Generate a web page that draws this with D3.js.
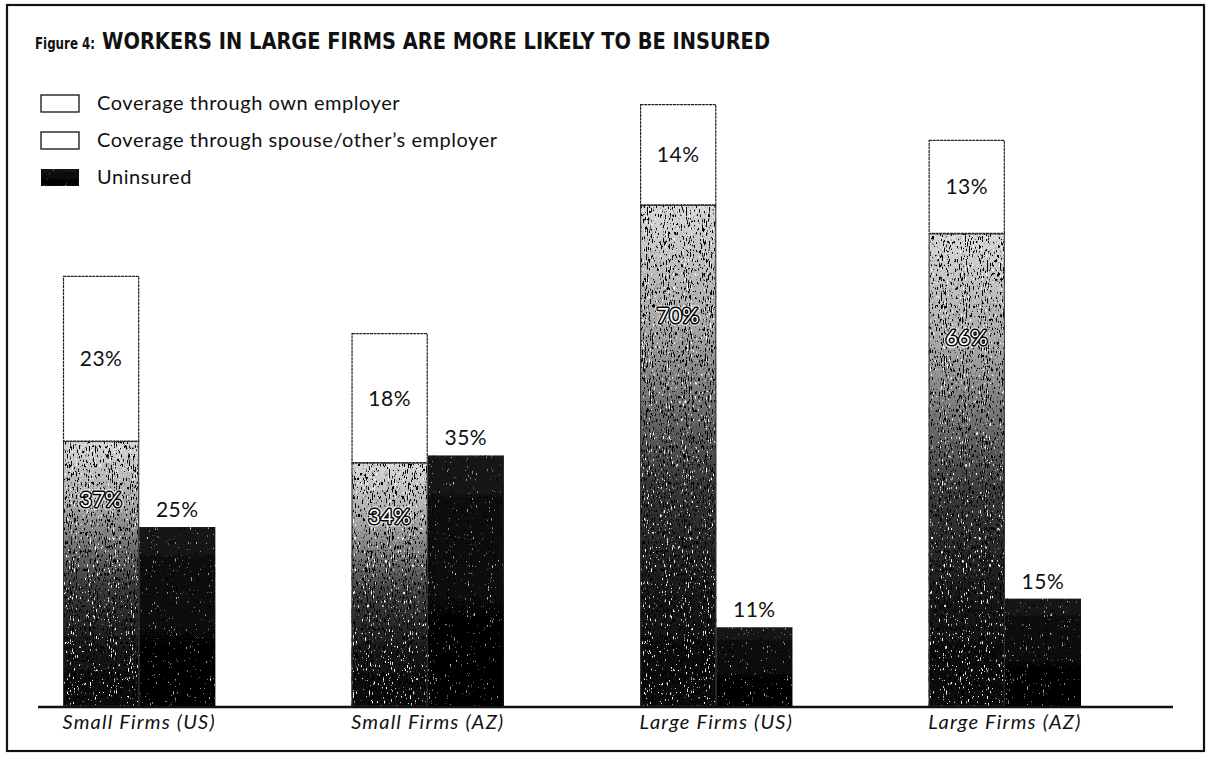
<!DOCTYPE html>
<html>
<head>
<meta charset="utf-8">
<script src="https://cdn.jsdelivr.net/npm/d3@7"></script>
<style>
  html, body { margin: 0; padding: 0; background: #fff; }
  svg { display: block; }
</style>
</head>
<body>
<svg id="chart" width="1207" height="763"></svg>
<script>
// Share of workers by source of health coverage, by firm size and place
const categories = ["Small Firms (US)", "Small Firms (AZ)", "Large Firms (US)", "Large Firms (AZ)"];
const ownEmployer = [37, 34, 70, 66];
const spouseEmployer = [23, 18, 14, 13];
const uninsured = [25, 35, 11, 15];
const seriesNames = ["Coverage through own employer", "Coverage through spouse/other\u2019s employer", "Uninsured"];
const figureLabel = "Figure 4:";
const titleText = "WORKERS IN LARGE FIRMS ARE MORE LIKELY TO BE INSURED";

const rows = categories.map((c, i) => ({
  category: c,
  own: ownEmployer[i],
  spouse: spouseEmployer[i],
  uninsured: uninsured[i]
}));

const svg = d3.select("#chart");
const bodyFont = "Lato, 'Noto Sans', 'DejaVu Sans', sans-serif";
const titleFont = "'Liberation Sans Narrow', 'DejaVu Sans Condensed', sans-serif";

// ---- paint definitions: shaded fills with a print-like grain ----
const defs = svg.append("defs");

const ownGrad = defs.append("linearGradient")
  .attr("id", "ownGrad").attr("x1", 0).attr("y1", 0).attr("x2", 0).attr("y2", 1);
[[0, "#d8d8d8"], [0.25, "#a4a4a4"], [0.55, "#3a3a3a"], [0.8, "#161616"], [1, "#080808"]]
  .forEach(([o, c]) => ownGrad.append("stop").attr("offset", o).attr("stop-color", c));

const unGrad = defs.append("linearGradient")
  .attr("id", "unGrad").attr("x1", 0).attr("y1", 0).attr("x2", 0).attr("y2", 1);
[[0, "#1a1a1a"], [0.3, "#0a0a0a"], [1, "#020202"]]
  .forEach(([o, c]) => unGrad.append("stop").attr("offset", o).attr("stop-color", c));

// speckle layer: light specks above `hiCut`, dark specks below `loCut`
function grainFilter(id, hiCut, loCut, hiAlpha, loAlpha, seed) {
  const f = defs.append("filter").attr("id", id)
    .attr("x", 0).attr("y", 0).attr("width", 1).attr("height", 1)
    .attr("filterUnits", "objectBoundingBox");
  f.append("feTurbulence").attr("type", "fractalNoise")
    .attr("baseFrequency", "0.95 0.22").attr("numOctaves", 3).attr("seed", seed)
    .attr("result", "noise");
  const k = 14;
  f.append("feColorMatrix").attr("in", "noise").attr("type", "matrix")
    .attr("values", `0 0 0 0 1  0 0 0 0 1  0 0 0 0 1  ${k * hiAlpha} 0 0 0 ${-k * hiCut * hiAlpha}`)
    .attr("result", "lightSpecks");
  f.append("feColorMatrix").attr("in", "noise").attr("type", "matrix")
    .attr("values", `0 0 0 0 0  0 0 0 0 0  0 0 0 0 0  ${-k * loAlpha} 0 0 0 ${k * loCut * loAlpha}`)
    .attr("result", "darkSpecks");
  f.append("feComposite").attr("in", "lightSpecks").attr("in2", "SourceGraphic")
    .attr("operator", "in").attr("result", "l2");
  f.append("feComposite").attr("in", "darkSpecks").attr("in2", "SourceGraphic")
    .attr("operator", "in").attr("result", "d2");
  const m = f.append("feMerge");
  m.append("feMergeNode").attr("in", "SourceGraphic");
  m.append("feMergeNode").attr("in", "d2");
  m.append("feMergeNode").attr("in", "l2");
}
grainFilter("grainOwn", 0.68, 0.42, 0.8, 1, 4);
grainFilter("grainUn", 0.72, 0.3, 0.3, 0.5, 9);

// ---- frame ----
svg.append("rect")
  .attr("x", 7).attr("y", 5).attr("width", 1197).attr("height", 746)
  .attr("fill", "none").attr("stroke", "#111").attr("stroke-width", 2.2);

// ---- title ----
svg.append("text")
  .attr("x", 35).attr("y", 49)
  .attr("font-family", titleFont).attr("font-weight", 700).attr("font-size", 16)
  .attr("textLength", 60).attr("lengthAdjust", "spacingAndGlyphs")
  .attr("fill", "#111")
  .text(figureLabel);
svg.append("text")
  .attr("x", 102).attr("y", 49)
  .attr("font-family", titleFont).attr("font-weight", 700).attr("font-size", 23)
  .attr("textLength", 668).attr("lengthAdjust", "spacingAndGlyphs")
  .attr("fill", "#111")
  .text(titleText);

// ---- scales ----
const x = d3.scaleBand().domain(categories).range([63, 1081]).paddingInner(0.472).paddingOuter(0);
const xInner = d3.scaleBand().domain(["covered", "uninsured"]).range([0, x.bandwidth()]).padding(0);
const y = d3.scaleLinear().domain([0, 84]).range([706, 104.6]);

// ---- bars ----
const groups = svg.append("g").selectAll("g")
  .data(rows).join("g")
  .attr("transform", d => `translate(${x(d.category)},0)`);

// own employer (bottom of stack)
groups.append("rect")
  .attr("x", xInner("covered"))
  .attr("width", xInner.bandwidth())
  .attr("y", d => y(d.own))
  .attr("height", d => y(0) - y(d.own))
  .attr("fill", "url(#ownGrad)")
  .attr("filter", "url(#grainOwn)");
groups.append("rect")
  .attr("x", xInner("covered") + 0.5)
  .attr("width", xInner.bandwidth() - 1)
  .attr("y", d => y(d.own) + 0.5)
  .attr("height", d => y(0) - y(d.own) - 0.5)
  .attr("fill", "none").attr("stroke", "#333").attr("stroke-width", 1);

// spouse / other's employer (top of stack)
groups.append("rect")
  .attr("x", xInner("covered") + 0.5)
  .attr("width", xInner.bandwidth() - 1)
  .attr("y", d => y(d.own + d.spouse))
  .attr("height", d => y(d.own) - y(d.own + d.spouse))
  .attr("fill", "#fff").attr("stroke", "#222").attr("stroke-width", 1.2)
  .attr("stroke-dasharray", "3 0.6");

// uninsured
groups.append("rect")
  .attr("x", xInner("uninsured"))
  .attr("width", xInner.bandwidth())
  .attr("y", d => y(d.uninsured))
  .attr("height", d => y(0) - y(d.uninsured))
  .attr("fill", "url(#unGrad)")
  .attr("filter", "url(#grainUn)");

// ---- value labels ----
const labelSize = 21;
groups.append("text")
  .attr("x", xInner("covered") + xInner.bandwidth() / 2)
  .attr("y", d => (y(d.own) + y(d.own + d.spouse)) / 2)
  .attr("dy", "0.36em")
  .attr("text-anchor", "middle")
  .attr("font-family", bodyFont).attr("font-size", labelSize).attr("fill", "#111")
  .attr("letter-spacing", 0.5)
  .text(d => d.spouse + "%");

groups.append("text")
  .attr("x", xInner("uninsured") + xInner.bandwidth() / 2)
  .attr("y", d => y(d.uninsured) - 10)
  .attr("text-anchor", "middle")
  .attr("font-family", bodyFont).attr("font-size", labelSize).attr("fill", "#111")
  .attr("letter-spacing", 0.5)
  .text(d => d.uninsured + "%");

// own-employer labels: outlined white type sitting on the shaded bar
const ownLabelY = d => y(d.own * 0.78);
groups.append("text")
  .attr("x", xInner("covered") + xInner.bandwidth() / 2)
  .attr("y", ownLabelY).attr("dy", "0.36em")
  .attr("text-anchor", "middle")
  .attr("font-family", bodyFont).attr("font-size", labelSize)
  .attr("letter-spacing", 0.5)
  .attr("fill", "#fff").attr("stroke", "#fff").attr("stroke-width", 5.5)
  .attr("stroke-opacity", 0.7).attr("stroke-linejoin", "round")
  .text(d => d.own + "%");
groups.append("text")
  .attr("x", xInner("covered") + xInner.bandwidth() / 2)
  .attr("y", ownLabelY).attr("dy", "0.36em")
  .attr("text-anchor", "middle")
  .attr("font-family", bodyFont).attr("font-size", labelSize)
  .attr("letter-spacing", 0.5)
  .attr("fill", "#fff").attr("stroke", "#000").attr("stroke-width", 3)
  .attr("paint-order", "stroke").attr("stroke-linejoin", "round")
  .text(d => d.own + "%");

// ---- baseline and category axis ----
svg.append("line")
  .attr("x1", 38).attr("x2", 1173)
  .attr("y1", y(0) + 1).attr("y2", y(0) + 1)
  .attr("stroke", "#111").attr("stroke-width", 2.6);

const xAxis = svg.append("g")
  .attr("transform", `translate(0,${y(0)})`)
  .call(d3.axisBottom(x).tickSize(0).tickPadding(9));
xAxis.select(".domain").remove();
xAxis.selectAll("text")
  .attr("font-family", bodyFont).attr("font-style", "italic")
  .attr("font-size", 20).attr("letter-spacing", 1.2).attr("fill", "#111");

// ---- legend ----
const legendFills = ["#fff", "#fff", "url(#unGrad)"];
const legend = svg.append("g").selectAll("g")
  .data(seriesNames).join("g")
  .attr("transform", (d, i) => `translate(41,${95 + i * 37})`);
legend.append("rect")
  .attr("width", 38).attr("height", 17)
  .attr("fill", (d, i) => legendFills[i])
  .attr("filter", (d, i) => i === 2 ? "url(#grainUn)" : null)
  .attr("stroke", "#111").attr("stroke-width", 1.3);
legend.append("text")
  .attr("x", 56).attr("y", 15)
  .attr("font-family", bodyFont).attr("font-size", 20).attr("letter-spacing", 0.55)
  .attr("fill", "#111")
  .text(d => d);
</script>
</body>
</html>
